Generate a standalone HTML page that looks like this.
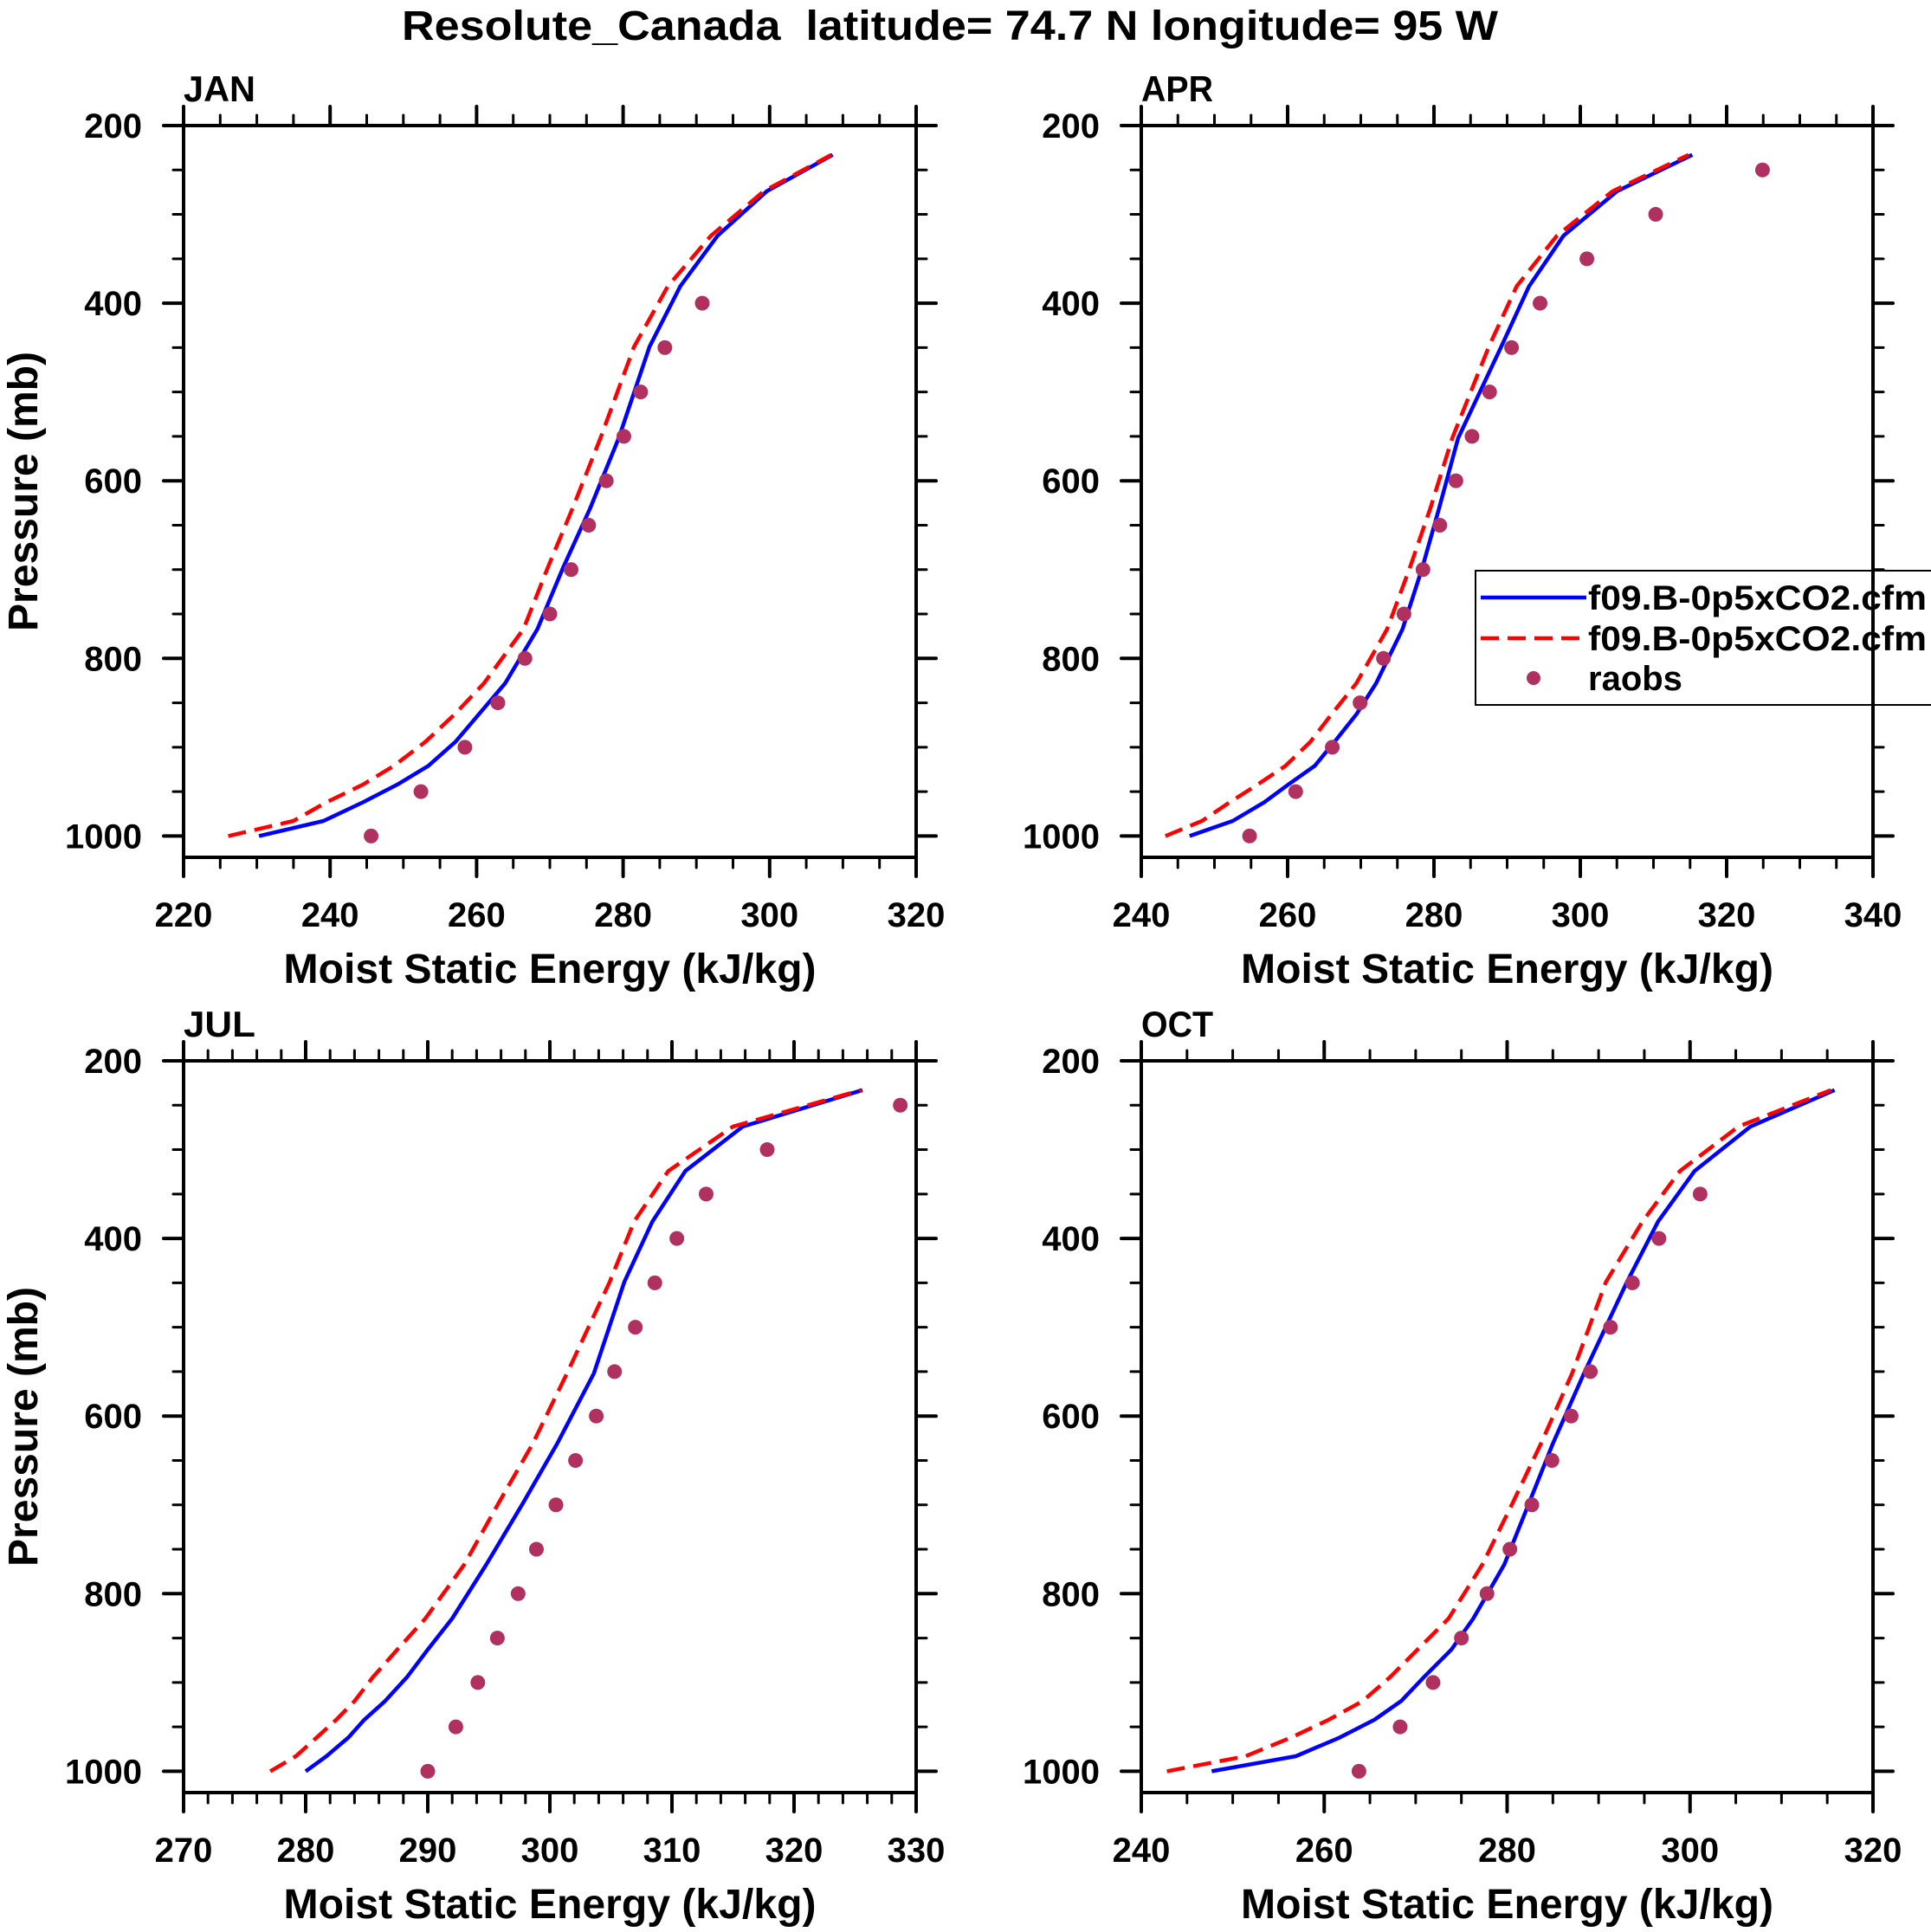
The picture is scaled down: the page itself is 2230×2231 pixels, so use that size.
<!DOCTYPE html>
<html><head><meta charset="utf-8"><style>
html,body{margin:0;padding:0;background:#fff;}
svg{display:block;font-family:"Liberation Sans",Arial,sans-serif;font-weight:bold;}
</style></head><body>
<svg id="chart" width="2230" height="2231" viewBox="0 0 2230 2231" xmlns="http://www.w3.org/2000/svg">
<rect width="2230" height="2231" fill="#fff"/>
<text x="1097" y="46" font-size="48" text-anchor="middle" textLength="1266" lengthAdjust="spacingAndGlyphs" xml:space="preserve" style="white-space:pre">Resolute_Canada  latitude= 74.7 N longitude= 95 W</text>
</svg>
<script>
// model levels (mb)
const levels = [1000, 983, 962, 942, 921, 894, 863, 828, 767, 698, 631, 552, 449, 381, 324, 274, 233];
const obsLevels = [1000, 950, 900, 850, 800, 750, 700, 650, 600, 550, 500, 450, 400, 350, 300, 250];

const janBlue = [230.3, 239.1, 244.5, 249.2, 253.4, 257.1, 260.3, 263.9, 268.3, 271.8, 275.5, 279.4, 283.6, 287.8, 292.9, 299.6, 308.6];
const janRed  = [226.1, 235.0, 239.5, 244.5, 248.7, 253.0, 257.0, 261.0, 266.4, 269.7, 273.1, 276.9, 281.5, 286.1, 292.0, 299.2, 308.4];
const janObs  = [245.6, 252.4, 258.4, 262.9, 266.6, 270.0, 272.9, 275.3, 277.7, 280.1, 282.4, 285.7, 290.8];

const aprBlue = [246.6, 252.5, 256.8, 260.1, 263.7, 266.4, 269.4, 272.1, 275.7, 278.4, 280.7, 283.3, 289.2, 293.0, 297.7, 305.0, 315.3];
const aprRed  = [243.3, 248.3, 252.1, 255.9, 259.7, 263.1, 266.0, 269.4, 273.6, 276.7, 279.5, 282.5, 287.5, 291.3, 296.8, 304.4, 314.8];
const aprObs  = [254.8, 261.1, 266.1, 269.9, 273.1, 275.9, 278.5, 280.8, 283.0, 285.2, 287.6, 290.6, 294.5, 300.9, 310.3, 324.9];

const julBlue = [280.0, 281.7, 283.5, 284.8, 286.5, 288.3, 290.0, 292.0, 294.8, 297.8, 300.6, 303.6, 306.1, 308.4, 311.1, 315.8, 325.6];
const julRed  = [277.1, 279.2, 280.9, 282.5, 284.0, 285.5, 287.5, 289.8, 293.0, 295.8, 298.6, 301.4, 304.9, 306.9, 309.7, 315.0, 325.5];
const julObs  = [290.0, 292.3, 294.1, 295.7, 297.4, 298.9, 300.5, 302.1, 303.8, 305.3, 307.0, 308.6, 310.4, 312.8, 317.8, 328.7];

const octBlue = [247.7, 256.9, 261.7, 265.5, 268.4, 270.9, 273.9, 276.3, 279.7, 282.4, 285.0, 288.4, 293.1, 296.5, 300.5, 306.6, 315.8];
const octRed  = [242.8, 251.4, 256.4, 260.5, 264.2, 267.2, 270.2, 273.6, 277.3, 280.6, 283.7, 287.1, 290.8, 294.8, 298.9, 305.3, 315.4];
const octObs  = [263.8, 268.3, 271.9, 275.0, 277.8, 280.3, 282.7, 284.9, 287.0, 289.1, 291.3, 293.7, 296.6, 301.1];

const yTicks = [200, 400, 600, 800, 1000];
const panelNames = ["JAN", "APR", "JUL", "OCT"];

const NS = "http://www.w3.org/2000/svg";
const svg = document.getElementById("chart");
function mk(tag, attrs, parent) {
  const e = document.createElementNS(NS, tag);
  for (const k in attrs) e.setAttribute(k, attrs[k]);
  (parent || svg).appendChild(e);
  return e;
}

const panels = [
  {name: "JAN", l: 212, r: 1058, t: 145, b: 990, xmin: 220, xmax: 320, major: 20, minor: 5, blue: janBlue, red: janRed, obs: janObs, ytitle: true},
  {name: "APR", l: 1318, r: 2163, t: 145, b: 990, xmin: 240, xmax: 340, major: 20, minor: 5, blue: aprBlue, red: aprRed, obs: aprObs, ytitle: false, legend: true},
  {name: "JUL", l: 212, r: 1058, t: 1225, b: 2070, xmin: 270, xmax: 330, major: 10, minor: 2, blue: julBlue, red: julRed, obs: julObs, ytitle: true},
  {name: "OCT", l: 1318, r: 2163, t: 1225, b: 2070, xmin: 240, xmax: 320, major: 20, minor: 5, blue: octBlue, red: octRed, obs: octObs, ytitle: false}
];
const PMIN = 200, PMAX = 1024;

panels.forEach(function(P) {
  const key = P.name.toLowerCase();
  const g = mk("g", {});
  
  
  const xs = v => P.l + (v - P.xmin) / (P.xmax - P.xmin) * (P.r - P.l);
  const ys = p => P.t + (p - PMIN) / (PMAX - PMIN) * (P.b - P.t);

  const bpts = levels.map((p, i) => xs(P.blue[i]).toFixed(1) + "," + ys(p).toFixed(1)).join(" ");
  const bl = mk("polyline", {points: bpts, fill: "none", stroke: "#0000ff", "stroke-width": 4.5, "stroke-linejoin": "round"}, g);
  
  
  const rpts = levels.map((p, i) => xs(P.red[i]).toFixed(1) + "," + ys(p).toFixed(1)).join(" ");
  const rl = mk("polyline", {points: rpts, fill: "none", stroke: "#ff0000", "stroke-width": 4.5, "stroke-dasharray": "21 10"}, g);
  
  
  P.obs.forEach(function(v, i) {
    const c = mk("circle", {cx: xs(v), cy: ys(obsLevels[i]), r: 8.5, fill: "#b03060"}, g);
    
    
  });

  const fr = mk("rect", {x: P.l, y: P.t, width: P.r - P.l, height: P.b - P.t, fill: "none", stroke: "#000", "stroke-width": 4}, g);
  
  

  for (let v = P.xmin; v <= P.xmax + 1e-6; v += P.minor) {
    const isMaj = Math.abs((v - P.xmin) / P.major - Math.round((v - P.xmin) / P.major)) < 1e-6;
    const len = isMaj ? 22 : 12;
    const x = xs(v);
    mk("line", {x1: x, y1: P.b, x2: x, y2: P.b + len, stroke: "#000", "stroke-width": isMaj ? 4 : 3, "stroke-linecap": "round"}, g);
    mk("line", {x1: x, y1: P.t, x2: x, y2: P.t - len, stroke: "#000", "stroke-width": isMaj ? 4 : 3, "stroke-linecap": "round"}, g);
    if (isMaj) {
      const t = mk("text", {x: x, y: P.b + 80, "font-size": 40, "text-anchor": "middle"}, g);
      t.textContent = String(Math.round(v));
      
      
    }
  }
  for (let p = 200; p <= 1000; p += 50) {
    const isMaj = p % 200 === 0;
    const len = isMaj ? 23 : 12;
    const y = ys(p);
    mk("line", {x1: P.l, y1: y, x2: P.l - len, y2: y, stroke: "#000", "stroke-width": isMaj ? 4 : 3, "stroke-linecap": "round"}, g);
    mk("line", {x1: P.r, y1: y, x2: P.r + len, y2: y, stroke: "#000", "stroke-width": isMaj ? 4 : 3, "stroke-linecap": "round"}, g);
  }
  yTicks.forEach(function(p) {
    const t = mk("text", {x: P.l - 48, y: ys(p) + 14, "font-size": 40, "text-anchor": "end"}, g);
    t.textContent = String(p);
    
    
  });

  const pl = mk("text", {x: P.l, y: P.t - 28, "font-size": 42, textLength: 83, lengthAdjust: "spacingAndGlyphs"}, g);
  pl.textContent = P.name;
  
  

  const xt = mk("text", {x: (P.l + P.r) / 2, y: P.b + 145, "font-size": 48, "text-anchor": "middle", textLength: 615, lengthAdjust: "spacingAndGlyphs"}, g);
  xt.textContent = "Moist Static Energy (kJ/kg)";
  
  

  if (P.ytitle) {
    const cy = (P.t + P.b) / 2;
    const yt = mk("text", {x: 0, y: 0, "font-size": 48, "text-anchor": "middle", textLength: 323, lengthAdjust: "spacingAndGlyphs", transform: "translate(43," + cy + ") rotate(-90)"}, g);
    yt.textContent = "Pressure (mb)";
    
    
  }

  if (P.legend) {
    const lg = mk("g", {}, g);
    
    
    const box = mk("rect", {x: 1704, y: 659, width: 560, height: 155, fill: "#fff", stroke: "#000", "stroke-width": 2}, lg);
    
    
    const l1 = mk("line", {x1: 1710, y1: 690, x2: 1832, y2: 690, stroke: "#0000ff", "stroke-width": 4.5}, lg);
    
    
    const l2 = mk("line", {x1: 1710, y1: 737, x2: 1832, y2: 737, stroke: "#ff0000", "stroke-width": 4.5, "stroke-dasharray": "21 10"}, lg);
    
    
    const d = mk("circle", {cx: 1771, cy: 783, r: 8, fill: "#b03060"}, lg);
    
    
    const t1 = mk("text", {x: 1834, y: 704, "font-size": 40, textLength: 391, lengthAdjust: "spacingAndGlyphs"}, lg);
    t1.textContent = "f09.B-0p5xCO2.cfm";
    
    
    const t2 = mk("text", {x: 1834, y: 751, "font-size": 40, textLength: 391, lengthAdjust: "spacingAndGlyphs"}, lg);
    t2.textContent = "f09.B-0p5xCO2.cfm";
    
    
    const t3 = mk("text", {x: 1834, y: 797, "font-size": 40}, lg);
    t3.textContent = "raobs";
    
    
    mk("line", {x1: P.r, y1: 655, x2: P.r, y2: 820, stroke: "#000", "stroke-width": 4}, lg);
  }
});
</script>
</body></html>
